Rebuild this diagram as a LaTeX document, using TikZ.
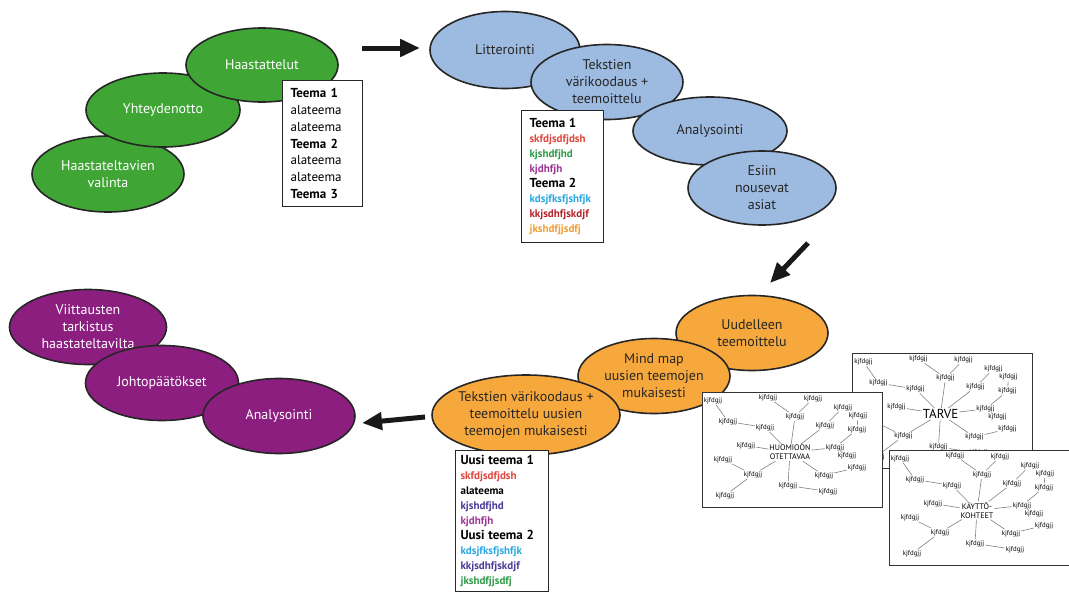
\documentclass[tikz,border=0pt]{standalone}
\usepackage{fontspec}
\setmainfont{PT Sans}
\usetikzlibrary{shapes,arrows.meta,positioning}

\definecolor{stgreen}{HTML}{3FA535}
\definecolor{stblue}{HTML}{9DBBE0}
\definecolor{storange}{HTML}{F6A83C}
\definecolor{stpurple}{HTML}{8B1E7F}
\definecolor{cred}{HTML}{E2453C}
\definecolor{cgreen}{HTML}{2E9A47}
\definecolor{cviolet}{HTML}{9C3393}
\definecolor{ccyan}{HTML}{2AA8E0}
\definecolor{cdred}{HTML}{B5242A}
\definecolor{corange}{HTML}{F39C32}
\definecolor{cindigo}{HTML}{4B3A97}

% one mind map sheet: name, box centre, hub text, hub font
\newcommand{\mindmap}[4]{%
  \node[mapbox] (#1) at (#2) {};
  \node[maphub,font=#4] (#1c) at ([shift={(-2,3)}]#1.center) {#3};
  \foreach \dx/\dy [count=\n] in {-77/-52,-22/-55,23/-54,53/-45,68/-37,5/-36,35/-27,-62/-31,-25/-25,67/-23,
                                   -44/-7,45/-5,57/3,-67/7,-37/22,67/15,34/23,-2/33,38/39,-65/43}
    \node[leaf] (#1\n) at ([shift={(\dx,\dy)}]#1c) {kjfdgjj};
  \foreach \a/\b in {c/6,6/2,6/3,c/7,7/4,c/9,9/8,8/1,c/11,c/12,12/10,10/5,12/13,c/15,15/14,15/20,c/17,17/16,c/18,18/19}
    \draw[twig] (#1\a) -- (#1\b);
}

\begin{document}
\begin{tikzpicture}[x=1pt,y=-1pt,
  stage/.style={ellipse,draw=black!85,line width=1.6pt,inner sep=0pt,align=center,font=\fontsize{14}{17}\selectfont},
  greenstage/.style={stage,fill=stgreen,text=white},
  bluestage/.style={stage,fill=stblue,text=black!85},
  orangestage/.style={stage,fill=storange,text=black!85},
  purplestage/.style={stage,fill=stpurple,text=white},
  listbox/.style={draw=black!85,fill=white,line width=1.1pt,anchor=north west,align=left,inner ysep=3pt},
  flow/.style={-{Triangle[length=20pt,width=17pt]},line width=5pt,black!90},
  mapbox/.style={draw=black!80,fill=white,line width=0.9pt,minimum width=180pt,minimum height=115pt},
  maphub/.style={inner sep=1pt,align=center},
  leaf/.style={inner sep=1pt,font=\fontsize{6.8}{8}\selectfont},
  twig/.style={draw=black!50,line width=0.6pt}]
\useasboundingbox (0,0) rectangle (1069,592);

% green: interviews
\node[greenstage,minimum width=152pt,minimum height=76pt] (valinta) at (108,174) {Haastateltavien\\valinta};
\node[greenstage,minimum width=154pt,minimum height=74pt] (yhteys) at (163,110) {Yhteydenotto};
\node[greenstage,minimum width=152pt,minimum height=74pt] (haast) at (262,65) {Haastattelut};
\node[listbox,text width=64pt,inner xsep=8pt,minimum height=126pt,font=\fontsize{13}{16.8}\selectfont] (teemat) at (282,80)
  {\textbf{Teema 1}\\alateema\\alateema\\\textbf{Teema 2}\\alateema\\alateema\\\textbf{Teema 3}};

% blue: transcription and coding
\node[bluestage,minimum width=150pt,minimum height=77pt] (litt) at (505,50) {Litterointi};
\node[bluestage,minimum width=152pt,minimum height=75pt] (koodaus) at (607,82) {Tekstien\\värikoodaus +\\teemoittelu};
\node[bluestage,minimum width=154pt,minimum height=68pt] (analyysi) at (710,131) {Analysointi};
\node[bluestage,minimum width=148pt,minimum height=74pt] (esiin) at (762,188) {Esiin\\nousevat\\asiat};
\node[listbox,text width=66pt,inner xsep=8pt,minimum height=132pt,font=\fontsize{11}{15}\selectfont\bfseries] (koodit) at (521,110)
  {{\fontsize{13}{15}\selectfont Teema 1}\\\textcolor{cred}{skfdjsdfjdsh}\\\textcolor{cgreen}{kjshdfjhd}\\\textcolor{cviolet}{kjdhfjh}\\
   {\fontsize{13}{15}\selectfont Teema 2}\\\textcolor{ccyan}{kdsjfksfjshfjk}\\\textcolor{cdred}{kkjsdhfjskdjf}\\\textcolor{corange}{jkshdfjjsdfj}};

% orange: new themes
\node[orangestage,minimum width=152pt,minimum height=75pt] (uudelleen) at (752,333) {Uudelleen\\teemoittelu};
\node[orangestage,minimum width=152pt,minimum height=75pt] (mindmap) at (654,376) {Mind map\\uusien teemojen\\mukaisesti};
\node[orangestage,minimum width=188pt,minimum height=80pt,inner xsep=-12pt] (uusikoodaus) at (526,415) {Tekstien värikoodaus +\\teemoittelu uusien\\teemojen mukaisesti};
\node[listbox,text width=83pt,inner xsep=5pt,minimum height=141pt,font=\fontsize{11}{15}\selectfont\bfseries] (uudet) at (455,450)
  {{\fontsize{13}{15}\selectfont Uusi teema 1}\\\textcolor{cred}{skfdjsdfjdsh}\\alateema\\\textcolor{cindigo}{kjshdfjhd}\\\textcolor{cviolet}{kjdhfjh}\\
   {\fontsize{13}{15}\selectfont Uusi teema 2}\\\textcolor{ccyan}{kdsjfksfjshfjk}\\\textcolor{cindigo}{kkjsdhfjskdjf}\\\textcolor{cgreen}{jkshdfjjsdfj}};

% mind map sheets
\mindmap{ta}{942.5,411}{TARVE}{\fontsize{13}{14}\selectfont}
\mindmap{hu}{792,449.5}{HUOMIOON\\OTETTAVAA}{\fontsize{8}{9}\selectfont}
\mindmap{ka}{979,507.5}{KÄYTTÖ-\\KOHTEET}{\fontsize{8}{9}\selectfont}

% purple: conclusions
\node[purplestage,minimum width=157pt,minimum height=75pt] (viittaus) at (88,327) {Viittausten\\tarkistus\\haastateltavilta};
\node[purplestage,minimum width=153pt,minimum height=75pt] (johto) at (162,383) {Johtopäätökset};
\node[purplestage,minimum width=152pt,minimum height=75pt] (analyysi2) at (279,416) {Analysointi};

% arrows between the phases
\coordinate (a1s) at (362,48);
\coordinate (a1e) at (420,48);
\coordinate (a2s) at (808,243);
\coordinate (a2e) at (770,283);
\coordinate (a3s) at (425,417);
\coordinate (a3e) at (362,423);
\draw[flow] (a1s) -- (a1e);
\draw[flow] (a2s) -- (a2e);
\draw[flow] (a3s) -- (a3e);
\end{tikzpicture}
\end{document}
